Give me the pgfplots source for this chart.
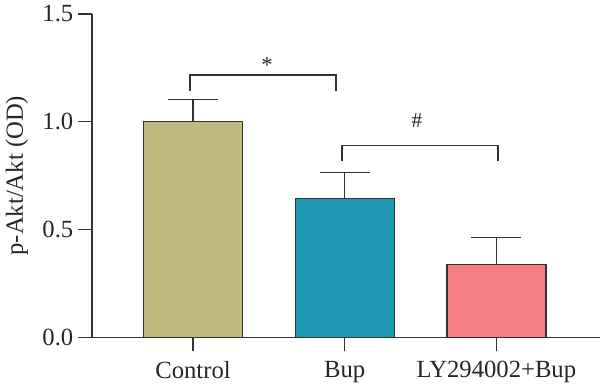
\documentclass[border=0pt]{standalone}
\usepackage{fontspec}
\setmainfont{Liberation Serif}
\usepackage{pgfplots}
\pgfplotsset{compat=1.18}
\definecolor{ctan}{HTML}{C0B87C}
\definecolor{cteal}{HTML}{1F97B1}
\definecolor{cpink}{HTML}{F47F80}
\definecolor{cline}{HTML}{333333}
\begin{document}
\begin{tikzpicture}
\useasboundingbox (-69pt,-38.6pt) rectangle (381pt,253.1pt);
\begin{axis}[
  at={(0pt,0pt)}, anchor=south west,
  scale only axis, width=381pt, height=242.6pt,
  xmin=-0.666, xmax=2.683, ymin=0, ymax=1.5,
  axis x line=bottom, axis y line=left,
  axis line style={-, line width=1pt, color=cline},
  tick align=outside, major tick length=10.5pt,
  tick style={line width=1pt, color=cline},
  xtick={0,1,2}, xticklabels={Control,Bup,LY294002+Bup},
  ytick={0,0.5,1,1.5},
  yticklabel style={/pgf/number format/.cd, fixed, fixed zerofill, precision=1},
  xticklabel style={yshift=-4pt},
  /pgf/number format/assume math mode=true,
  tick label style={font=\fontsize{18.5}{21}\selectfont, text=black!85},
  every axis y label/.style={at={(axis description cs:0,0.5)}, xshift=-56.25pt, rotate=90, anchor=center, font=\fontsize{18.5}{21}\selectfont, text=black!85},
  ylabel={p-Akt/Akt (OD)},
  clip=false,
  error bars/y dir=plus, error bars/y explicit,
  error bars/error bar style={line width=1pt, color=cline},
  error bars/error mark options={rotate=90, mark size=18.75pt, line width=1pt, color=cline},
]
\addplot[ybar, bar width=74.25pt, bar shift=0pt, fill=ctan, draw=cline, line width=1pt] coordinates {(0,1.0) +- (0,0.103)};
\addplot[ybar, bar width=74.25pt, bar shift=0pt, fill=cteal, draw=cline, line width=1pt] coordinates {(1,0.645) +- (0,0.119)};
\addplot[ybar, bar width=74.25pt, bar shift=0pt, fill=cpink, draw=cline, line width=1pt] coordinates {(2,0.338) +- (0,0.125)};
\addplot[no marks, line width=1pt, color=cline] coordinates {(-0.02,1.142) (-0.02,1.217) (0.943,1.217) (0.943,1.142)};
\addplot[no marks, line width=1pt, color=cline] coordinates {(0.982,0.818) (0.982,0.889) (2.01,0.889) (2.01,0.818)};
\node[font=\fontsize{17}{19}\selectfont, text=black!85] at (axis cs:0.488,1.262) {*};
\node[font=\fontsize{16}{19}\selectfont, text=black!85] at (axis cs:1.477,1.005) {\#};
\end{axis}
\end{tikzpicture}
\end{document}
